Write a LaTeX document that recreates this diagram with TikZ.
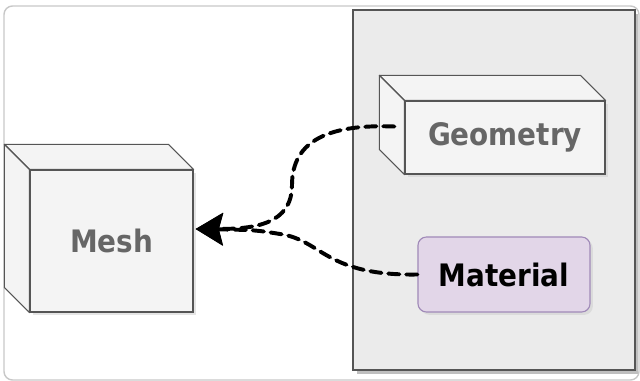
\documentclass[tikz,border=0pt]{standalone}
\usepackage{fontspec}
\setmainfont{DejaVu Sans Condensed}
\usetikzlibrary{arrows.meta,calc,shadows}
\definecolor{boxgray}{HTML}{F4F4F4}
\definecolor{panelgray}{HTML}{EBEBEB}
\definecolor{edgegray}{HTML}{555555}
\definecolor{textgray}{HTML}{666666}
\definecolor{matfill}{HTML}{E2D6E8}
\definecolor{matedge}{HTML}{A08AB8}
\newcommand{\cubeback}[1]{%
  \filldraw[boxgray, draw=edgegray, line width=0.8pt, line join=round]
    (#1.north west) -- ++(-25,-25) -- ($(#1.north east)+(-25,-25)$) -- (#1.north east) -- cycle;
  \filldraw[boxgray, draw=edgegray, line width=0.8pt, line join=round]
    (#1.north west) -- ++(-25,-25) -- ($(#1.south west)+(-25,-25)$) -- (#1.south west) -- cycle;
}
\begin{document}
\begin{tikzpicture}[x=0.025cm, y=-0.025cm,
    cube/.style={draw=edgegray, fill=boxgray, line width=0.8pt, text=textgray,
      font=\fontsize{22}{26}\selectfont\bfseries,
      drop shadow={shadow xshift=2pt, shadow yshift=-2pt, fill=black!20}},
    matbox/.style={draw=matedge, fill=matfill, line width=0.8pt, rounded corners=6pt,
      font=\fontsize{22}{26}\selectfont\bfseries,
      drop shadow={shadow xshift=2pt, shadow yshift=-2pt, fill=black!20}},
    link/.style={line width=2.8pt, dash pattern=on 0.28cm off 0.17cm, line cap=round},
    tip/.style={-{Stealth[length=0.68cm, width=0.8cm, inset=0.1cm]}}]
  \useasboundingbox (0,0) rectangle (640,381);
  % outer frame
  \draw[black!22, line width=1pt, rounded corners=6pt] (4,6) rectangle (639,380);
  % right panel
  \fill[black!25] (357,14) rectangle (638,374);
  \filldraw[panelgray, draw=edgegray, line width=1.4pt] (353,10) rectangle (635,370);

  \node[cube, minimum width=4.075cm, minimum height=3.55cm] (mesh) at (111.5,241) {Mesh};
  \cubeback{mesh}
  \node[cube, minimum width=5cm, minimum height=1.825cm] (geom) at (505,137.5) {Geometry};
  \cubeback{geom}
  \node[matbox, minimum width=4.3cm, minimum height=1.875cm] (mat) at (504,274.5) {Material};

  \coordinate (geomside) at ($(geom.west)+(-10,-11)$);
  \coordinate (meshin) at ($(mesh.east)+(2,-12)$);

  \draw[link, tip] (geomside)
    .. controls (330,124) and (292,140) .. (292,185)
    .. controls (292,224) and (255,229) .. (meshin);
  \draw[link, tip] (mat.west)
    .. controls (325,276) and (322,240) .. (280,234)
    .. controls (255,230) .. (meshin);
\end{tikzpicture}
\end{document}
